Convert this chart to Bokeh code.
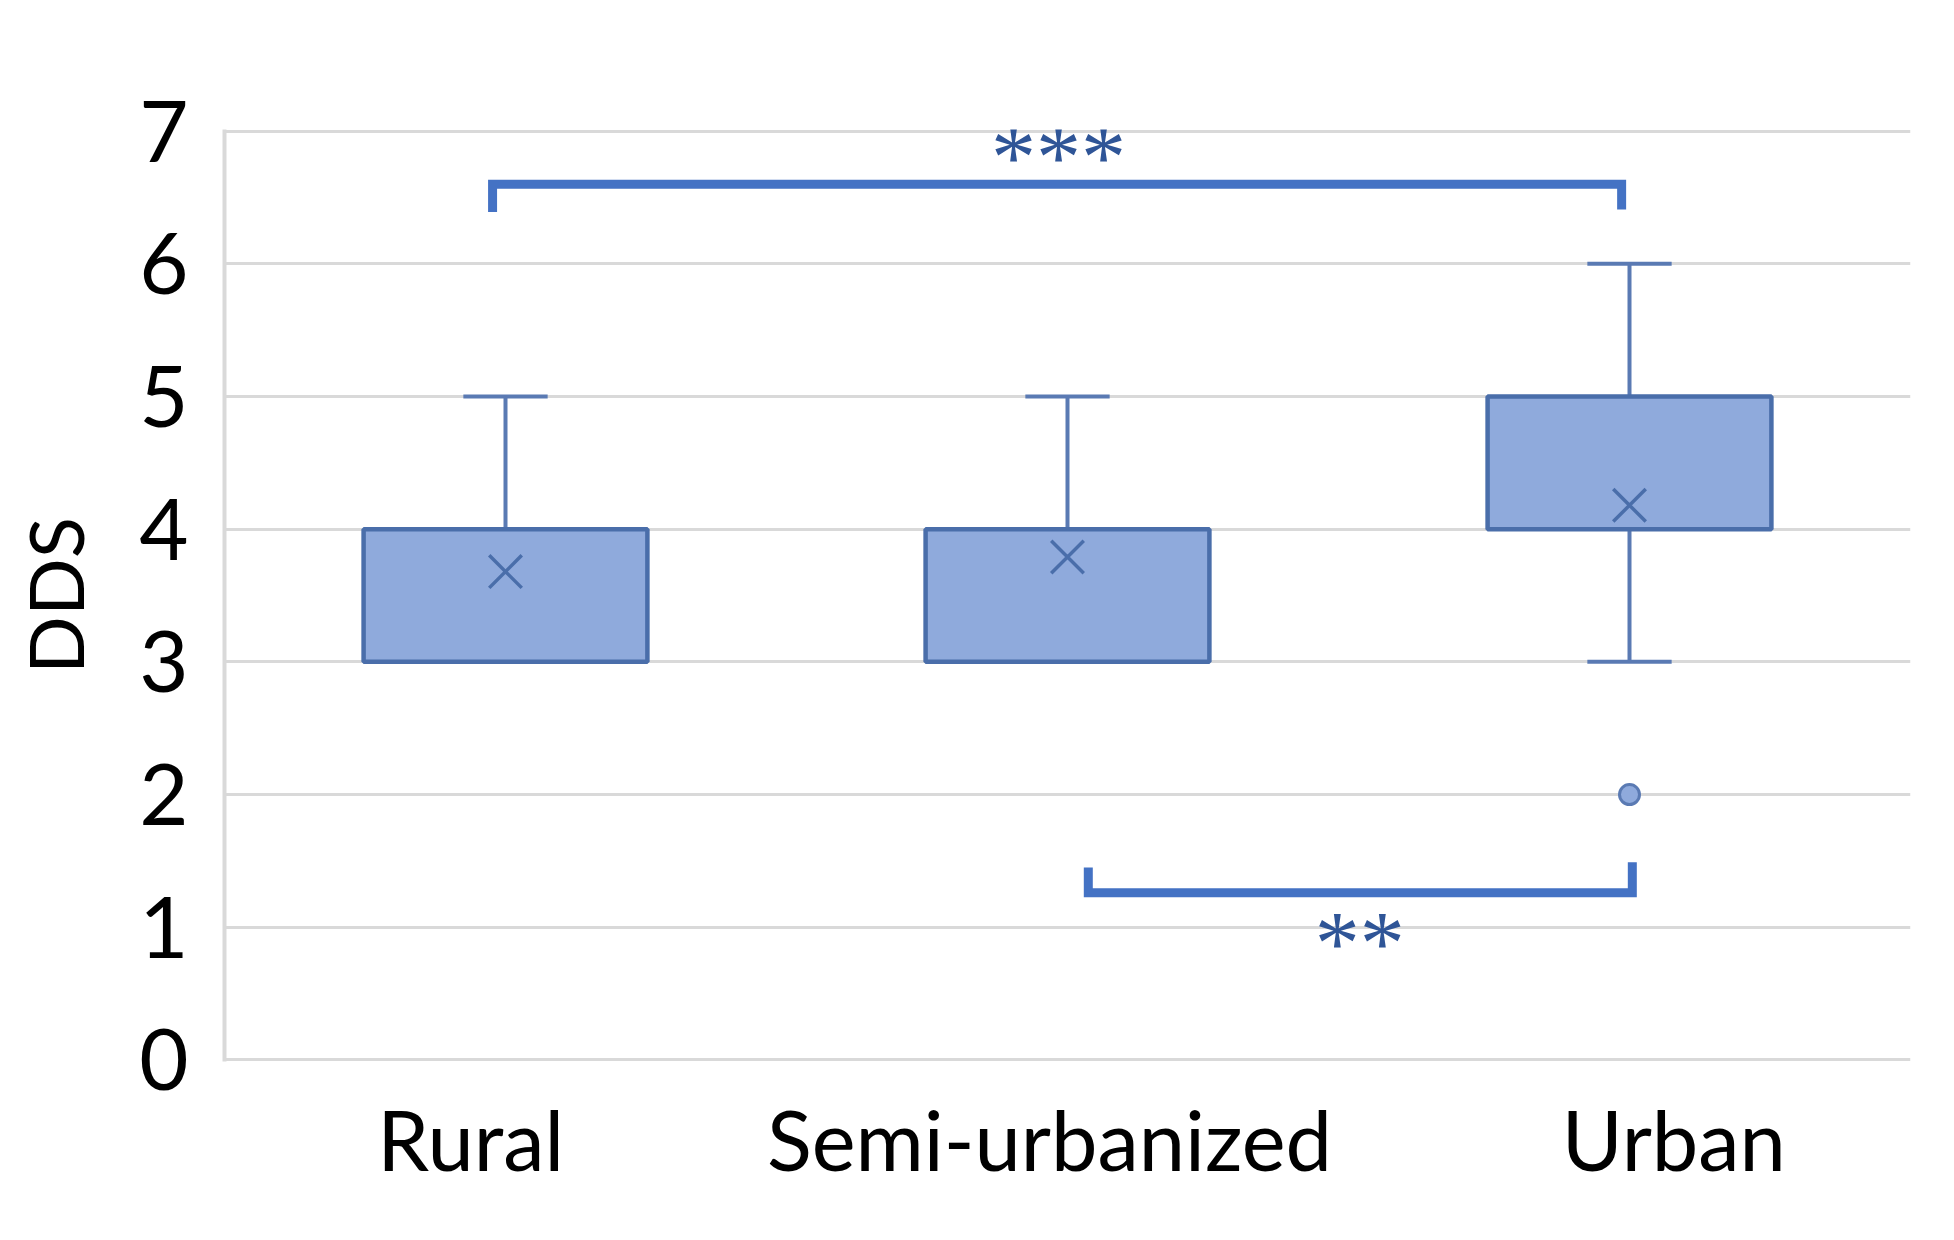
from bokeh.plotting import figure
from bokeh.models import Range1d, FixedTicker, LabelSet, ColumnDataSource
from bokeh.embed import file_html
from bokeh.resources import INLINE

# ---- data ----
categories = ["Rural", "Semi-urbanized", "Urban"]
q1 = [3, 3, 4]
q3 = [4, 4, 5]
whisker_low = [3, 3, 3]
whisker_high = [5, 5, 6]
means = [3.68, 3.79, 4.18]
outlier_cat = [2]          # index of category
outlier_val = [2]
y_ticks = [0, 1, 2, 3, 4, 5, 6, 7]

# significance brackets (x in category units, y in DDS)
br_top_x = [0.477, 0.477, 2.486, 2.486]
br_top_y = [6.39, 6.60, 6.60, 6.41]
br_bot_x = [1.537, 1.537, 2.505, 2.505]
br_bot_y = [1.45, 1.26, 1.26, 1.49]
sig_labels = ["***", "**"]
sig_x = [1.484, 2.02]
sig_y = [6.80, 0.88]

# ---- style ----
label_shift = [-0.062, -0.032, 0.079]   # label placement tweak per category
FONT = "Lato"
BOX_FILL = "#8FAADC"
BOX_LINE = "#4A6EAA"
WHISK = "#5A7AB3"
BRACKET = "#4472C4"
STAR = "#2F5597"
GRID = "#D9D9D9"

centers = [i + 0.5 for i in range(len(categories))]

p = figure(width=1938, height=1224, output_backend="svg", toolbar_location=None,
           x_range=Range1d(0, 3), y_range=Range1d(-0.012, 7.012),
           min_border_left=224, min_border_right=28,
           min_border_top=129, min_border_bottom=163)
p.outline_line_color = None
p.background_fill_color = "white"
p.border_fill_color = "white"

# grid
p.xgrid.visible = False
p.ygrid.grid_line_color = GRID
p.ygrid.grid_line_width = 3
p.yaxis.ticker = FixedTicker(ticks=y_ticks)

# y axis
p.yaxis.axis_line_color = GRID
p.yaxis.axis_line_width = 4
p.yaxis.major_tick_line_color = None
p.yaxis.minor_tick_line_color = None
p.yaxis.major_label_text_font = FONT
p.yaxis.major_label_text_font_size = "85px"
p.yaxis.major_label_text_color = "#000000"
p.yaxis.major_label_standoff = 30
p.yaxis.axis_label = "DDS"
p.yaxis.axis_label_text_font = FONT
p.yaxis.axis_label_text_font_size = "76px"
p.yaxis.axis_label_text_font_style = "normal"
p.yaxis.axis_label_text_color = "#000000"
p.yaxis.axis_label_standoff = 36

# x axis (category labels)
p.xaxis.ticker = FixedTicker(ticks=[c + s for c, s in zip(centers, label_shift)])
p.xaxis.major_label_overrides = {c + s: name for c, s, name in zip(centers, label_shift, categories)}
p.xaxis.axis_line_color = None
p.xaxis.major_tick_line_color = None
p.xaxis.minor_tick_line_color = None
p.xaxis.major_label_text_font = FONT
p.xaxis.major_label_text_font_size = "83px"
p.xaxis.major_label_text_color = "#000000"
p.xaxis.major_label_standoff = 21

# whiskers
p.segment(x0=centers, y0=q3, x1=centers, y1=whisker_high, line_color=WHISK, line_width=4)
p.segment(x0=centers, y0=q1, x1=centers, y1=whisker_low, line_color=WHISK, line_width=4)
cap = 0.075
p.segment(x0=[c - cap for c in centers], y0=whisker_high, x1=[c + cap for c in centers], y1=whisker_high,
          line_color=WHISK, line_width=4)
p.segment(x0=[c - cap for c in centers], y0=whisker_low, x1=[c + cap for c in centers], y1=whisker_low,
          line_color=WHISK, line_width=4)

# boxes
p.vbar(x=centers, width=0.505, bottom=q1, top=q3, fill_color=BOX_FILL,
       line_color=BOX_LINE, line_width=4.5)

# means
p.scatter(x=centers, y=means, marker="x", size=46, line_color=BOX_LINE, line_width=3.5)

# outliers
p.scatter(x=[centers[i] for i in outlier_cat], y=outlier_val, marker="circle", size=20,
          fill_color=BOX_FILL, line_color=WHISK, line_width=3)

# brackets
p.line(br_top_x, br_top_y, line_color=BRACKET, line_width=9, line_join="miter")
p.line(br_bot_x, br_bot_y, line_color=BRACKET, line_width=9, line_join="miter")

sig_src = ColumnDataSource(dict(x=sig_x, y=sig_y, text=sig_labels))
p.add_layout(LabelSet(x="x", y="y", text="text", source=sig_src,
                      text_font="DejaVu Sans", text_font_size="90px", text_color=STAR,
                      text_align="center", text_baseline="middle"))

open("out.html", "w").write(file_html(p, INLINE))
